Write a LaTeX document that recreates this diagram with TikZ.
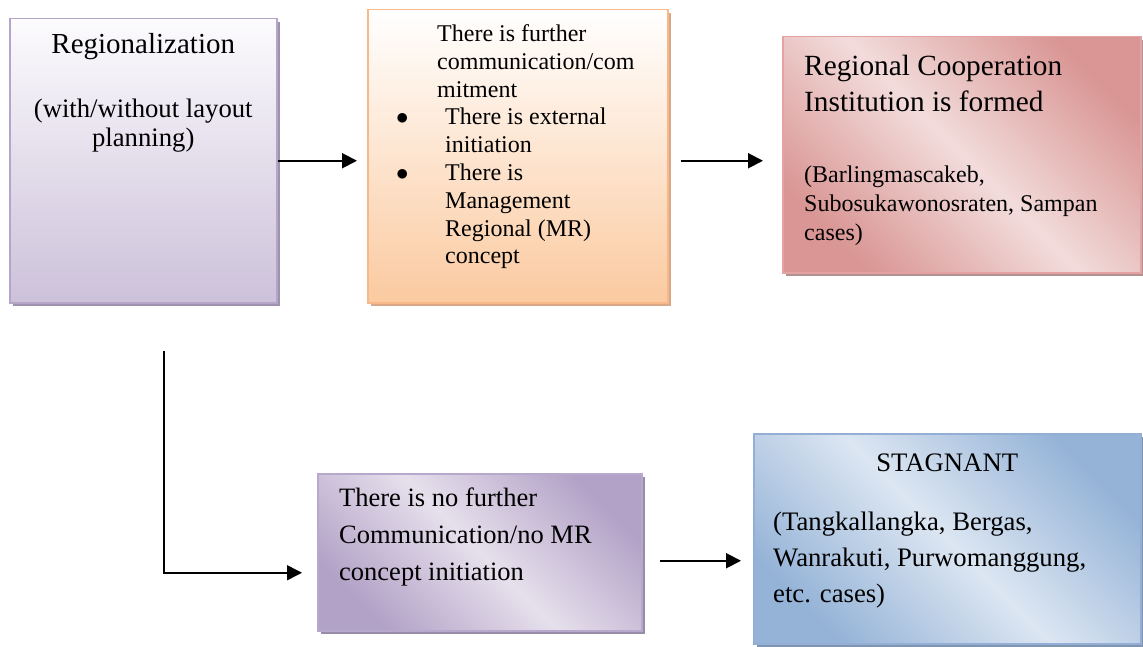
\documentclass[tikz,border=0pt]{standalone}
\usepackage{fontspec}
\setmainfont{Liberation Serif}
\usepackage{tikz}
\usetikzlibrary{arrows.meta}
\usetikzlibrary{shadows, calc}

\definecolor{lilactop}{HTML}{FCFBFD}
\definecolor{lilacbottom}{HTML}{CCC1DA}
\definecolor{lilacborder}{HTML}{B4A5C9}
\definecolor{lilacshadow}{HTML}{9E92AF}
\definecolor{peachbottom}{HTML}{FBCAA0}
\definecolor{peachborder}{HTML}{F8B98A}
\definecolor{peachshadow}{HTML}{D8A887}
\definecolor{rosedark}{HTML}{D99694}
\definecolor{roselight}{HTML}{F2DCDB}
\definecolor{roseborder}{HTML}{E3A3A2}
\definecolor{roseshadow}{HTML}{B39191}
\definecolor{skydark}{HTML}{95B3D7}
\definecolor{skylight}{HTML}{DCE6F2}
\definecolor{skyborder}{HTML}{93AFD6}
\definecolor{skyshadow}{HTML}{8096B0}
\definecolor{plumdark}{HTML}{B3A2C7}
\definecolor{plumlight}{HTML}{E6E0EC}
\definecolor{plumborder}{HTML}{B7A9CB}
\definecolor{plumshadow}{HTML}{998CA9}

\begin{document}
\begin{tikzpicture}[x=1pt,y=-1pt]
\tikzset{font=\fontsize{26.7}{28.5}\selectfont}
\tikzset{box/.style={rectangle, anchor=north west, inner sep=0pt, line width=1.5pt}}
\tikzset{shade/.style={drop shadow={shadow xshift=3pt, shadow yshift=-3pt, fill=#1, opacity=1}}}
\tikzset{txt/.style={anchor=north west, align=left, inner sep=0pt}}
\tikzset{arr/.style={line width=2pt, -{Triangle[length=15pt, width=15pt]}}}
\useasboundingbox (0,0) rectangle (1143,647);

\node[box, draw=lilacborder, top color=lilactop, bottom color=lilacbottom, shade=lilacshadow, minimum width=267pt, minimum height=284pt] (regio) at (9,18) {};
\node[box, draw=peachborder, top color=white, bottom color=peachbottom, shade=peachshadow, minimum width=300pt, minimum height=293pt] (further) at (367,9) {};
\node[box, draw=roseborder, top color=rosedark, bottom color=rosedark, middle color=roselight, shading angle=-45, shade=roseshadow, minimum width=358pt, minimum height=236pt] (formed) at (782,36) {};
\node[box, draw=plumborder, top color=plumdark, bottom color=plumdark, middle color=plumlight, shading angle=-45, shade=plumshadow, minimum width=324pt, minimum height=157pt] (nofurther) at (317,473) {};
\node[box, draw=skyborder, top color=skydark, bottom color=skydark, middle color=skylight, shading angle=-45, shade=skyshadow, minimum width=387pt, minimum height=210pt] (stagnant) at (753,433) {};

\node[anchor=base, inner sep=0pt, font=\fontsize{29}{33}\selectfont] (regiotitle) at ($(regio.north)+(0,36)$) {Regionalization};
\node[anchor=north, align=center, inner sep=0pt] (regionote) at ($(regio.north)+(0,81)$) {(with/without layout\\planning)};
\node[txt, font=\fontsize{24}{27.8}\selectfont] (furthertext) at ($(further.north west)+(29,15.5)$)
  {\hspace*{41pt}There is further\\\hspace*{41pt}communication/com\\\hspace*{41pt}mitment\\
   \makebox[49pt][l]{$\bullet$}There is external\\\hspace*{49pt}initiation\\
   \makebox[49pt][l]{$\bullet$}There is\\\hspace*{49pt}Management\\\hspace*{49pt}Regional (MR)\\\hspace*{49pt}concept};
\node[txt, font=\fontsize{29.3}{36}\selectfont] (formedtitle) at ($(formed.north west)+(22,19)$) {Regional Cooperation\\Institution is formed};
\node[txt, font=\fontsize{24}{29}\selectfont] (formedcases) at ($(formed.north west)+(22,130)$) {(Barlingmascakeb,\\Subosukawonosraten, Sampan\\cases)};
\node[txt, font=\fontsize{26.5}{37}\selectfont] (nofurthertext) at ($(nofurther.north west)+(22,15)$) {There is no further\\Communication/no MR\\concept initiation};
\node[anchor=base, inner sep=0pt] (stagnanttitle) at ($(stagnant.north)+(0,38)$) {STAGNANT};
\node[txt, font=\fontsize{26.7}{36}\selectfont] (stagnantcases) at ($(stagnant.north west)+(20,79)$) {(Tangkallangka, Bergas,\\Wanrakuti, Purwomanggung,\\etc. cases)};

\coordinate (split) at ($(regio.south)+(20.5,47)$);
\coordinate (into) at ($(nofurther.west)+(-15,20.5)$);
\coordinate (out) at ($(nofurther.east)+(0,8.5)$);
\draw[arr, shorten >=10pt] (regio.east) -- (regio.east -| further.west);
\draw[arr, shorten <=12pt, shorten >=19pt] (regio.east -| further.east) -- (regio.east -| formed.west);
\draw[arr, line width=1.5pt] (split) |- (into);
\draw[arr, shorten <=17pt, shorten >=12pt] (out) -- (out -| stagnant.west);
\end{tikzpicture}
\end{document}
